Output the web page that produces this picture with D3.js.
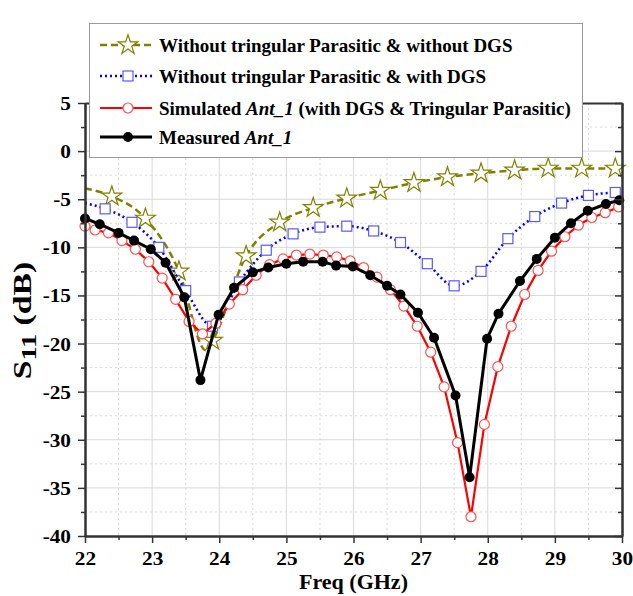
<!DOCTYPE html>
<html>
<head>
<meta charset="utf-8">
<script src="https://cdn.jsdelivr.net/npm/d3@7"></script>
<style>
  body { margin: 0; background: #fff; }
  svg text { font-family: "Liberation Serif", "Times New Roman", serif; font-weight: bold; }
</style>
</head>
<body>
<div id="chart"></div>
<script>
// S11 data (GHz, dB)
const oliveFreq = [22.0, 22.4, 22.9, 23.4, 23.8, 23.9, 24.4, 24.9, 25.4, 25.9, 26.4, 26.9, 27.4, 27.9, 28.4, 28.9, 29.4, 29.9];
const oliveS11  = [-3.85, -4.7, -7.0, -12.5, -20.7, -19.7, -10.9, -7.4, -5.9, -4.9, -4.1, -3.3, -2.7, -2.3, -2.0, -1.8, -1.8, -1.8];
const oliveMarked = [0, 1, 1, 1, 0, 1, 1, 1, 1, 1, 1, 1, 1, 1, 1, 1, 1, 1];

const blueFreq = [22.0, 22.3, 22.7, 23.1, 23.5, 23.9, 24.3, 24.7, 25.1, 25.5, 25.9, 26.3, 26.7, 27.1, 27.5, 27.9, 28.3, 28.7, 29.1, 29.5, 29.9];
const blueS11  = [-5.4, -6.0, -7.4, -10.0, -14.5, -18.2, -13.6, -10.3, -8.6, -7.9, -7.8, -8.3, -9.5, -11.7, -14.0, -12.5, -9.1, -6.8, -5.4, -4.6, -4.3];
const blueMarked = [0, 1, 1, 1, 1, 1, 1, 1, 1, 1, 1, 1, 1, 1, 1, 1, 1, 1, 1, 1, 1];

const simFreq = [22.0, 22.15, 22.35, 22.55, 22.75, 22.95, 23.15, 23.35, 23.55, 23.75, 23.95, 24.15, 24.35, 24.55, 24.75,
  24.95, 25.15, 25.35, 25.55, 25.75, 25.95, 26.15, 26.35, 26.55, 26.75, 26.95, 27.15, 27.35, 27.55, 27.75,
  27.95, 28.15, 28.35, 28.55, 28.75, 28.95, 29.15, 29.35, 29.55, 29.75, 29.95];
const simS11 = [-7.8, -8.2, -8.5, -9.3, -10.2, -11.5, -13.2, -15.4, -17.7, -19.0, -17.9, -15.9, -14.4, -12.9, -11.8,
  -11.2, -10.8, -10.7, -10.8, -11.0, -11.4, -12.1, -13.1, -14.4, -16.1, -18.2, -20.9, -24.5, -30.3, -38.0,
  -28.4, -22.4, -18.2, -14.9, -12.4, -10.4, -8.9, -7.7, -6.9, -6.4, -5.8];

const measFreq = [22.0, 22.22, 22.5, 22.73, 22.98, 23.2, 23.48, 23.72, 23.99, 24.22, 24.5, 24.73, 25.0, 25.25, 25.54, 25.74,
  25.99, 26.25, 26.5, 26.7, 26.96, 27.2, 27.52, 27.73, 27.99, 28.16, 28.48, 28.73, 29.0, 29.24, 29.49, 29.76, 29.96];
const measS11 = [-7.0, -7.6, -8.5, -9.3, -10.2, -11.6, -15.2, -23.8, -17.0, -14.2, -12.6, -12.1, -11.7, -11.5, -11.5, -11.9,
  -12.0, -12.9, -14.0, -14.9, -16.8, -19.4, -25.4, -33.9, -19.5, -16.9, -13.5, -11.2, -9.0, -7.5, -6.2, -5.5, -5.1];

const xTicks = [22, 23, 24, 25, 26, 27, 28, 29, 30];
const yTicks = [5, 0, -5, -10, -15, -20, -25, -30, -35, -40];

const width = 633, height = 596;
const margin = { left: 85, right: 11, top: 103, bottom: 60 };
const w = width - margin.left - margin.right;
const h = height - margin.top - margin.bottom;

const svg = d3.select('#chart').append('svg')
  .attr('width', width)
  .attr('height', height);

const g = svg.append('g')
  .attr('transform', `translate(${margin.left},${margin.top})`);

const x = d3.scaleLinear().domain([22, 30]).range([0, w]);
const y = d3.scaleLinear().domain([-40, 5]).range([h, 0]);

const xMinor = d3.range(22.5, 30, 1);
const yMinor = d3.range(-37.5, 5, 5);

// grid
const grid = g.append('g').attr('class', 'grid');
grid.selectAll('.gx').data(xTicks.slice(1, -1)).enter().append('line')
  .attr('x1', d => x(d)).attr('x2', d => x(d)).attr('y1', 0).attr('y2', h)
  .attr('stroke', '#d9d9d9').attr('stroke-width', 1);
grid.selectAll('.gxm').data(xMinor).enter().append('line')
  .attr('x1', d => x(d)).attr('x2', d => x(d)).attr('y1', 0).attr('y2', h)
  .attr('stroke', '#d9d9d9').attr('stroke-width', 1).attr('stroke-dasharray', '2,3');
grid.selectAll('.gy').data(yTicks.slice(1, -1)).enter().append('line')
  .attr('x1', 0).attr('x2', w).attr('y1', d => y(d)).attr('y2', d => y(d))
  .attr('stroke', '#d9d9d9').attr('stroke-width', 1);
grid.selectAll('.gym').data(yMinor).enter().append('line')
  .attr('x1', 0).attr('x2', w).attr('y1', d => y(d)).attr('y2', d => y(d))
  .attr('stroke', '#d9d9d9').attr('stroke-width', 1).attr('stroke-dasharray', '2,3');

// series
const series = [
  { name: 'olive', freq: oliveFreq, vals: oliveS11, marked: oliveMarked, color: '#808000', width: 2.5,
    dash: '7,4', curve: d3.curveMonotoneX, marker: 'star', mstroke: '#808000', mfill: '#fff' },
  { name: 'blue', freq: blueFreq, vals: blueS11, marked: blueMarked, color: '#0000ff', width: 2.5,
    dash: '2,3', curve: d3.curveMonotoneX, marker: 'square', mstroke: '#5a5aff', mfill: '#fff' },
  { name: 'sim', freq: simFreq, vals: simS11, marked: null, color: '#ff0000', width: 2.2,
    dash: null, curve: d3.curveLinear, marker: 'ocircle', mstroke: '#ff5050', mfill: '#fff' },
  { name: 'meas', freq: measFreq, vals: measS11, marked: null, color: '#000', width: 3,
    dash: null, curve: d3.curveLinear, marker: 'dot', mstroke: '#000', mfill: '#000' }
];

function drawMarker(sel, type, stroke, fill) {
  if (type === 'star') {
    sel.append('path').attr('d', d3.symbol(d3.symbolStar, 120)())
      .attr('fill', fill).attr('stroke', stroke).attr('stroke-width', 1.2);
  } else if (type === 'square') {
    sel.append('rect').attr('x', -5).attr('y', -5).attr('width', 10).attr('height', 10)
      .attr('fill', fill).attr('stroke', stroke).attr('stroke-width', 1.2);
  } else if (type === 'ocircle') {
    sel.append('circle').attr('r', 5)
      .attr('fill', fill).attr('stroke', stroke).attr('stroke-width', 1.2);
  } else {
    sel.append('circle').attr('r', 5).attr('fill', fill);
  }
}

series.forEach(s => {
  const pts = s.freq.map((f, i) => ({ x: f, y: s.vals[i], m: s.marked ? s.marked[i] : 1 }));
  const line = d3.line().x(d => x(d.x)).y(d => y(d.y)).curve(s.curve);
  g.append('path')
    .datum(pts)
    .attr('fill', 'none')
    .attr('stroke', s.color)
    .attr('stroke-width', s.width)
    .attr('stroke-dasharray', s.dash)
    .attr('d', line);
  g.selectAll('.m-' + s.name)
    .data(pts.filter(d => d.m))
    .enter().append('g')
    .attr('class', 'm-' + s.name)
    .attr('transform', d => `translate(${x(d.x)},${y(d.y)})`)
    .each(function () { drawMarker(d3.select(this), s.marker, s.mstroke, s.mfill); });
});

// axes
const axisColor = '#333';
const xAxis = g.append('g').attr('transform', `translate(0,${h})`)
  .call(d3.axisBottom(x).tickValues(xTicks).tickSize(7).tickSizeOuter(0).tickFormat(d => String(d)));
const xAxisMinor = g.append('g').attr('transform', `translate(0,${h})`)
  .call(d3.axisBottom(x).tickValues(xMinor).tickSize(4).tickSizeOuter(0).tickFormat(''));
const yAxis = g.append('g')
  .call(d3.axisLeft(y).tickValues(yTicks).tickSize(7).tickSizeOuter(0).tickFormat(d => String(d)));
const yAxisMinor = g.append('g')
  .call(d3.axisLeft(y).tickValues(yMinor).tickSize(4).tickSizeOuter(0).tickFormat(''));
const yAxisRight = g.append('g').attr('transform', `translate(${w},0)`)
  .call(d3.axisLeft(y).tickValues(yTicks).tickSize(7).tickSizeOuter(0).tickFormat(''));
const yAxisRightMinor = g.append('g').attr('transform', `translate(${w},0)`)
  .call(d3.axisLeft(y).tickValues(yMinor).tickSize(4).tickSizeOuter(0).tickFormat(''));
const xAxisTop = g.append('g')
  .call(d3.axisBottom(x).tickValues(xTicks).tickSize(7).tickSizeOuter(0).tickFormat(''));

[xAxis, xAxisMinor, yAxis, yAxisMinor, yAxisRight, yAxisRightMinor, xAxisTop].forEach(a => {
  a.select('.domain').attr('stroke', axisColor).attr('stroke-width', 2);
  a.selectAll('.tick line').attr('stroke', axisColor).attr('stroke-width', 1.5);
});

xAxis.selectAll('.tick text')
  .attr('font-size', 19).attr('fill', '#000').attr('dy', '0.71em').attr('y', 16)
  .attr('transform', 'scale(1.12,1)');
yAxis.selectAll('.tick text')
  .attr('font-size', 19).attr('fill', '#000').attr('x', -12.5).attr('dy', '0.34em')
  .attr('transform', 'scale(1.12,1)');

// axis titles
svg.append('text')
  .attr('x', margin.left + w / 2)
  .attr('y', 589)
  .attr('text-anchor', 'middle')
  .attr('font-size', 22)
  .text('Freq (GHz)');

const yl = svg.append('text')
  .attr('transform', `translate(31,${margin.top + h / 2 + 1}) rotate(-90) scale(1.35,1)`)
  .attr('text-anchor', 'middle')
  .attr('font-size', 25);
yl.append('tspan').text('S');
yl.append('tspan').attr('font-size', 21).attr('dy', 5).text('11');
yl.append('tspan').attr('dy', -5).text(' (dB)');

// legend
const legendLabels = [
  [{ t: 'Without tringular Parasitic & without DGS' }],
  [{ t: 'Without tringular Parasitic & with DGS' }],
  [{ t: 'Simulated ' }, { t: 'Ant_1', i: true }, { t: ' (with DGS & Tringular Parasitic)' }],
  [{ t: 'Measured ' }, { t: 'Ant_1', i: true }]
];
const legendY = [45, 76, 108, 137];

const legend = svg.append('g');
legend.append('rect')
  .attr('x', 89.5).attr('y', 23.5).attr('width', 493).attr('height', 134)
  .attr('fill', '#fff').attr('stroke', '#999').attr('stroke-width', 1);

series.forEach((s, i) => {
  const row = legend.append('g').attr('transform', `translate(0,${legendY[i]})`);
  row.append('line')
    .attr('x1', 100).attr('x2', 152).attr('y1', 0).attr('y2', 0)
    .attr('stroke', s.color).attr('stroke-width', s.width)
    .attr('stroke-dasharray', s.dash);
  const m = row.append('g').attr('transform', 'translate(128,0)');
  drawMarker(m, s.marker, s.mstroke, s.mfill);
  const txt = row.append('text').attr('x', 159).attr('y', 7).attr('font-size', 19).attr('fill', '#000');
  legendLabels[i].forEach(p => {
    txt.append('tspan').attr('font-style', p.i ? 'italic' : null).text(p.t);
  });
});
</script>
</body>
</html>
